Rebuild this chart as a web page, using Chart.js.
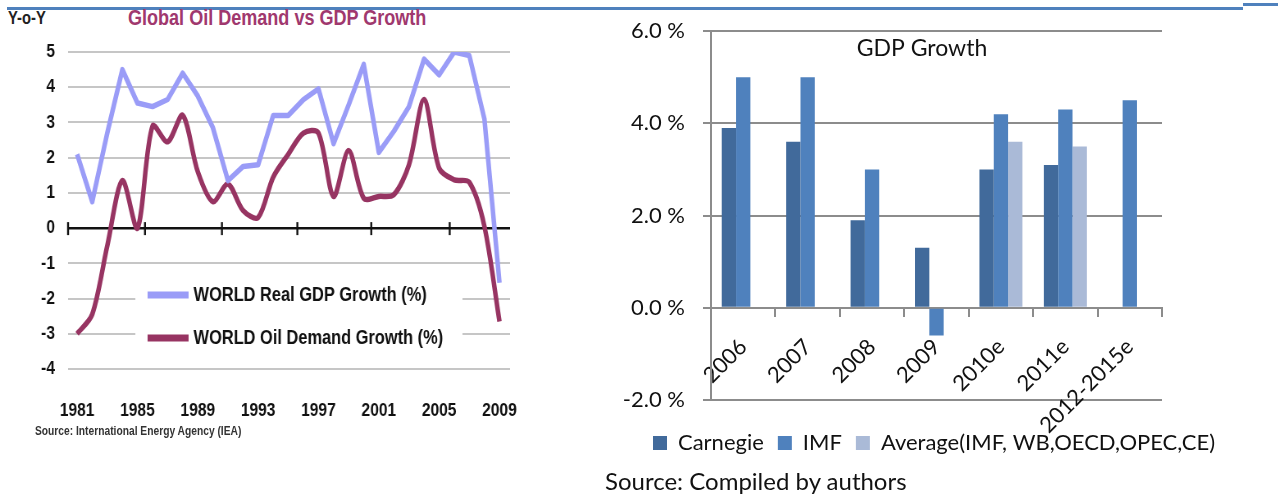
<!DOCTYPE html>
<html>
<head>
<meta charset="utf-8">
<script src="https://cdn.jsdelivr.net/npm/chart.js@4.4.1/dist/chart.umd.min.js"></script>
<style>
  body { margin: 0; background: #fff; }
  #page { position: relative; width: 1278px; height: 498px; overflow: hidden; background: #fff; }
  .rule { position: absolute; background: #4f81bd; }
  .box { position: absolute; }
  .txt { position: absolute; white-space: nowrap; }
  /* Arial-style bold squeezed to a narrow cut */
  .narrow { font-family: "Liberation Sans", Arial, sans-serif; font-weight: bold;
            transform: scaleX(0.82); transform-origin: left center; }
  #oilBox { transform: scaleX(0.82); transform-origin: left top; }
</style>
</head>
<body>
<div id="page">
  <div class="rule" style="left:7px;top:7px;width:1236px;height:3px"></div>
  <div class="rule" style="left:1243px;top:3px;width:35px;height:3px"></div>

  <div class="txt narrow" style="left:8px;top:8px;font-size:18px;color:#222">Y-o-Y</div>
  <div class="txt narrow" style="left:128px;top:5px;font-size:22px;color:#a0386e">Global Oil Demand vs GDP Growth</div>
  <div class="box" id="oilBox" style="left:0;top:0;width:720px;height:498px"><canvas id="oilChart"></canvas></div>
  <div class="txt narrow" style="left:35px;top:424px;font-size:12.5px;color:#333">Source: International Energy Agency (IEA)</div>

  <div class="box" style="left:590px;top:0;width:688px;height:498px"><canvas id="gdpChart"></canvas></div>
  <div class="txt" style="left:605px;top:466px;font-family:Lato;font-size:24px;color:#111">Source: Compiled by authors</div>
</div>

<script>
// ---- left panel: oil demand vs GDP, year-on-year % ----
const years = [1981, 1982, 1983, 1984, 1985, 1986, 1987, 1988, 1989, 1990,
               1991, 1992, 1993, 1994, 1995, 1996, 1997, 1998, 1999, 2000,
               2001, 2002, 2003, 2004, 2005, 2006, 2007, 2008, 2009];
const gdpGrowth = [2.1, 0.75, 2.7, 4.5, 3.55, 3.45, 3.65, 4.4, 3.75, 2.85,
                   1.35, 1.75, 1.8, 3.2, 3.2, 3.65, 3.95, 2.4, 3.5, 4.65,
                   2.15, 2.75, 3.45, 4.8, 4.35, 5.0, 4.9, 3.1, -1.55];
const oilDemandGrowth = [-3.0, -2.45, -0.5, 1.35, 0.0, 2.9, 2.45, 3.2, 1.6, 0.75,
                         1.25, 0.5, 0.3, 1.45, 2.1, 2.7, 2.7, 0.9, 2.2, 0.85,
                         0.9, 0.95, 1.8, 3.65, 1.7, 1.37, 1.3, 0.05, -2.65];
const yearTicks = [1981, 1985, 1989, 1993, 1997, 2001, 2005, 2009];
const zeroLineTicks = [1980.4, 1985.5, 1990.6, 1995.6, 2000.5, 2005.7];

const armFont = '"Liberation Sans", Arial, sans-serif';

// small black tick marks sitting on the zero line
const zeroTicks = {
  id: 'zeroTicks',
  beforeDatasetsDraw(chart) {
    const { ctx, scales: { x, y } } = chart;
    const y0 = y.getPixelForValue(0);
    ctx.save();
    ctx.strokeStyle = '#111';
    ctx.lineWidth = 2.4;
    zeroLineTicks.forEach(v => {
      const px = x.getPixelForValue(v);
      ctx.beginPath();
      ctx.moveTo(px, y0 - 6);
      ctx.lineTo(px, y0 + 7);
      ctx.stroke();
    });
    ctx.restore();
  }
};

// legend drawn inside the plot, on a white patch
const insideLegend = {
  id: 'insideLegend',
  afterDatasetsDraw(chart) {
    const { ctx, chartArea } = chart;
    const left = chartArea.left + 82;
    const top = chartArea.top + 226;
    ctx.save();
    ctx.fillStyle = '#fff';
    ctx.fillRect(left, top, 399, 74);
    ctx.font = 'bold 20px ' + armFont;
    ctx.textBaseline = 'middle';
    chart.data.datasets.forEach((ds, i) => {
      const cy = top + 17 + i * 43;
      ctx.fillStyle = ds.borderColor;
      ctx.fillRect(left + 15, cy - 3.5, 50, 7);
      ctx.fillStyle = '#111';
      ctx.fillText(ds.label, left + 71, cy);
    });
    ctx.restore();
  }
};

new Chart(document.getElementById('oilChart'), {
  type: 'line',
  data: {
    datasets: [{
      label: 'WORLD Real GDP Growth (%)',
      data: years.map((yr, i) => ({ x: yr, y: gdpGrowth[i] })),
      borderColor: '#9a9cf7',
      borderWidth: 5.5,
      pointRadius: 0,
      tension: 0,
      borderJoinStyle: 'round'
    }, {
      label: 'WORLD Oil Demand Growth (%)',
      data: years.map((yr, i) => ({ x: yr, y: oilDemandGrowth[i] })),
      borderColor: '#973462',
      borderWidth: 5.5,
      pointRadius: 0,
      tension: 0.3,
      borderJoinStyle: 'round'
    }]
  },
  options: {
    responsive: true,
    maintainAspectRatio: false,
    animation: false,
    layout: { padding: { top: 52, right: 98, left: 0, bottom: 0 } },
    plugins: { legend: { display: false }, tooltip: { enabled: false } },
    scales: {
      x: {
        type: 'linear',
        min: 1980.4,
        max: 2009.7,
        afterBuildTicks: s => { s.ticks = yearTicks.map(v => ({ value: v })); },
        afterFit: s => { s.height = 129; },
        grid: { display: false },
        border: { display: false },
        ticks: {
          padding: 22,
          color: '#111',
          font: { family: armFont, size: 19, weight: 'bold' },
          callback: v => String(v)
        }
      },
      y: {
        min: -4,
        max: 5,
        afterFit: s => { s.width = 83; },
        ticks: {
          stepSize: 1,
          padding: 16,
          color: '#111',
          font: { family: armFont, size: 19, weight: 'bold' }
        },
        border: { display: false },
        grid: {
          drawTicks: false,
          color: c => c.tick.value === 0 ? '#111' : '#c6c6c6',
          lineWidth: c => c.tick.value === 0 ? 2.5 : 2
        }
      }
    }
  },
  plugins: [zeroTicks, insideLegend]
});

// ---- right panel: GDP growth forecasts ----
const categories = ['2006', '2007', '2008', '2009', '2010e', '2011e', '2012-2015e'];
const carnegie = [3.9, 3.6, 1.9, 1.3, 3.0, 3.1, null];
const imf = [5.0, 5.0, 3.0, -0.6, 4.2, 4.3, 4.5];
const average = [null, null, null, null, 3.6, 3.5, null];

const gdpTitle = {
  id: 'gdpTitle',
  afterDraw(chart) {
    const { ctx, chartArea } = chart;
    ctx.save();
    ctx.font = '23px Lato';
    ctx.fillStyle = '#111';
    ctx.textAlign = 'center';
    ctx.textBaseline = 'middle';
    ctx.fillText('GDP Growth', chartArea.left + 211, chartArea.top + 17);
    ctx.restore();
  }
};

new Chart(document.getElementById('gdpChart'), {
  type: 'bar',
  data: {
    labels: categories,
    datasets: [
      { label: 'Carnegie', data: carnegie, backgroundColor: '#416a9b' },
      { label: 'IMF', data: imf, backgroundColor: '#4f81bd' },
      { label: 'Average(IMF, WB,OECD,OPEC,CE)', data: average, backgroundColor: '#aabad7' }
    ]
  },
  options: {
    responsive: true,
    maintainAspectRatio: false,
    animation: false,
    categoryPercentage: 0.667,
    barPercentage: 1.0,
    layout: { padding: { top: 30, right: 0, left: 0, bottom: 34 } },
    plugins: {
      tooltip: { enabled: false },
      legend: {
        position: 'bottom',
        title: { display: true, text: '', font: { size: 10 }, padding: 3 },
        labels: {
          boxWidth: 14,
          boxHeight: 14,
          padding: 14,
          color: '#111',
          font: { family: 'Lato', size: 22 }
        }
      }
    },
    scales: {
      x: {
        position: { y: 0 },
        grid: { drawOnChartArea: false, tickLength: 8, color: '#8c8c8c', lineWidth: 2, offset: true },
        border: { color: '#8c8c8c', width: 2 },
        ticks: {
          minRotation: 45,
          maxRotation: 45,
          autoSkip: false,
          padding: 18,
          color: '#111',
          font: { family: 'Lato', size: 22 }
        }
      },
      y: {
        min: -2,
        max: 6,
        afterFit: s => { s.width = 121; },
        grid: { color: '#8c8c8c', lineWidth: 2, tickLength: 8 },
        border: { color: '#8c8c8c', width: 2 },
        ticks: {
          stepSize: 2,
          padding: 18,
          color: '#111',
          font: { family: 'Lato', size: 22 },
          callback: v => v.toFixed(1) + ' %'
        }
      },
      // empty right-hand gutter so the plot stops short of the page edge
      gutter: {
        type: 'linear',
        position: 'right',
        afterFit: s => { s.width = 116; },
        grid: { display: false },
        border: { display: false },
        ticks: { display: false }
      }
    }
  },
  plugins: [gdpTitle]
});
</script>
</body>
</html>
